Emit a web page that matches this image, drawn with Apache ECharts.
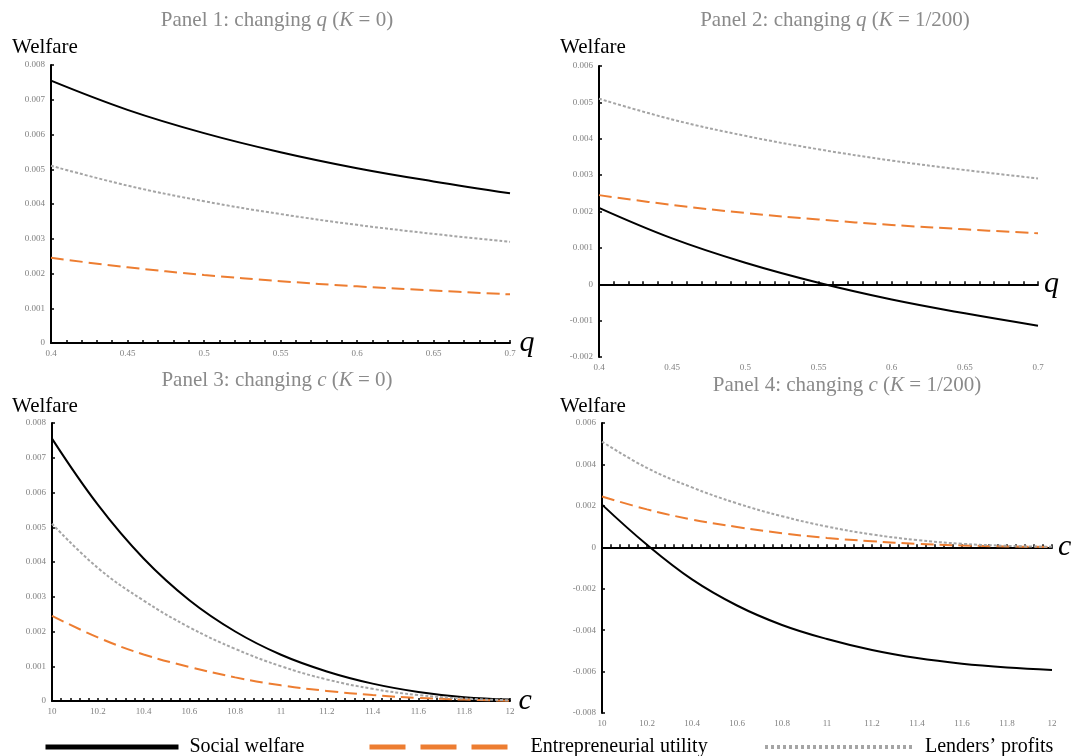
<!DOCTYPE html>
<html>
<head>
<meta charset="utf-8">
<script src="https://cdn.jsdelivr.net/npm/echarts@6/dist/echarts.min.js"></script>
<style>
  html, body { margin: 0; padding: 0; background: #fff; }
  #chart { width: 1077px; height: 756px; }
</style>
</head>
<body>
<div id="chart"></div>
<script>
// x values
var qVals = [0.4, 0.45, 0.5, 0.55, 0.6, 0.65, 0.7];
var cVals = [10, 10.2, 10.4, 10.6, 10.8, 11, 11.2, 11.4, 11.6, 11.8, 12];

// panels 1 and 2 (changing q)
var qSocialK0   = [0.00755, 0.00671, 0.00604, 0.00549, 0.00503, 0.00465, 0.00431];
var qSocialK200 = [0.0021, 0.00126, 0.00059, 0.00004, -0.00042, -0.0008, -0.00114];
var qEntre      = [0.00245, 0.00218, 0.00196, 0.00178, 0.00163, 0.00151, 0.0014];
var qLender     = [0.0051, 0.00453, 0.00408, 0.00371, 0.0034, 0.00314, 0.00291];

// panels 3 and 4 (changing c)
var cSocialK0   = [0.00755, 0.00565, 0.0041, 0.0029, 0.002, 0.00133, 0.00085, 0.0005, 0.00026, 0.00011, 0.00004];
var cSocialK200 = [0.00206, 0.00012, -0.00155, -0.00281, -0.00375, -0.00443, -0.00496, -0.00535, -0.00562, -0.0058, -0.00592];
var cEntre      = [0.00245, 0.00183, 0.00134, 0.00098, 0.00068, 0.00045, 0.00029, 0.00017, 0.00009, 0.00004, 0.00001];
var cLender     = [0.0051, 0.00383, 0.00289, 0.00212, 0.0015, 0.001, 0.00062, 0.00035, 0.00017, 0.00007, 0.00002];

var serif = 'Liberation Serif';
var names = ['Social welfare', 'Entrepreneurial utility', 'Lenders\u2019 profits'];

function pairs(xs, ys) {
  return xs.map(function (x, i) { return [x, ys[i]]; });
}

function xAxisFor(grid, min, max, interval, name) {
  return {
    type: 'value', gridIndex: grid, min: min, max: max, interval: interval,
    name: name, nameLocation: 'end', nameGap: 6,
    nameTextStyle: { fontFamily: serif, fontStyle: 'italic', fontSize: 30, color: '#000', verticalAlign: 'middle' },
    axisLine: { onZero: true, lineStyle: { color: '#000', width: 2 } },
    axisTick: { inside: true, length: 3, lineStyle: { color: '#000', width: 1.5 } },
    minorTick: { show: true, splitNumber: 5, length: 3, lineStyle: { color: '#000', width: 1.5 } },
    axisLabel: { fontFamily: serif, fontSize: 9, color: '#808080', margin: 6 },
    splitLine: { show: false }
  };
}

function yAxisFor(grid, min, max, interval) {
  return {
    type: 'value', gridIndex: grid, min: min, max: max, interval: interval,
    axisLine: { show: true, onZero: false, lineStyle: { color: '#000', width: 2 } },
    axisTick: { show: true, inside: true, length: 3, lineStyle: { color: '#000', width: 1.5 } },
    axisLabel: { fontFamily: serif, fontSize: 9, color: '#808080', margin: 6 },
    splitLine: { show: false }
  };
}

function panelSeries(idx, xs, social, entre, lender) {
  var common = { type: 'line', xAxisIndex: idx, yAxisIndex: idx, smooth: 0.4, symbol: 'none' };
  return [
    Object.assign({}, common, {
      name: names[0], data: pairs(xs, social),
      lineStyle: { color: '#000', width: 2 }, itemStyle: { color: '#000' }
    }),
    Object.assign({}, common, {
      name: names[1], data: pairs(xs, entre),
      lineStyle: { color: '#ED7D31', width: 2, type: [13, 6] }, itemStyle: { color: '#ED7D31' }
    }),
    Object.assign({}, common, {
      name: names[2], data: pairs(xs, lender),
      lineStyle: { color: '#A5A5A5', width: 2, type: [3, 2] }, itemStyle: { color: '#A5A5A5' }
    })
  ];
}

function panelTitle(text, x, y) {
  return {
    text: text, left: x, top: y, textAlign: 'center', padding: 0,
    textStyle: {
      fontFamily: serif, fontSize: 21, fontWeight: 'normal', color: '#8a8a8a',
      rich: { i: { fontFamily: serif, fontSize: 21, fontStyle: 'italic', color: '#8a8a8a' } }
    }
  };
}

function welfareLabel(x, y) {
  return {
    text: 'Welfare', left: x, top: y, padding: 0,
    textStyle: { fontFamily: serif, fontSize: 21, fontWeight: 'normal', color: '#000' }
  };
}

function legendItem(name, x, width, lineStyle) {
  return {
    data: [name], left: x, top: 737, padding: 0,
    itemWidth: width, itemHeight: 14, selectedMode: false,
    lineStyle: lineStyle,
    itemStyle: { opacity: 0 },
    textStyle: { fontFamily: serif, fontSize: 20, color: '#000', padding: [0, 0, 0, 6] }
  };
}

var chart = echarts.init(document.getElementById('chart'));

var option = {
  animation: false,
  backgroundColor: '#fff',
  title: [
    panelTitle('Panel 1: changing {i|q} ({i|K} = 0)', 277, 10),
    panelTitle('Panel 2: changing {i|q} ({i|K} = 1/200)', 835, 10),
    panelTitle('Panel 3: changing {i|c} ({i|K} = 0)', 277, 370),
    panelTitle('Panel 4: changing {i|c} ({i|K} = 1/200)', 847, 375),
    welfareLabel(12, 37),
    welfareLabel(560, 37),
    welfareLabel(12, 396),
    welfareLabel(560, 396)
  ],
  legend: [
    legendItem(names[0], 43, 133, { width: 5, type: 'solid', opacity: 1 }),
    legendItem(names[1], 367, 150, { width: 5, type: [36, 15], opacity: 1 }),
    legendItem(names[2], 763, 149, { width: 4, type: [3, 3], opacity: 1 })
  ],
  grid: [
    { left: 51, top: 65, width: 459, height: 278, containLabel: false, outerBoundsMode: 'none' },
    { left: 599, top: 66, width: 439, height: 291, containLabel: false, outerBoundsMode: 'none' },
    { left: 52, top: 423, width: 458, height: 278, containLabel: false, outerBoundsMode: 'none' },
    { left: 602, top: 423, width: 450, height: 290, containLabel: false, outerBoundsMode: 'none' }
  ],
  xAxis: [
    xAxisFor(0, 0.4, 0.7, 0.05, 'q'),
    xAxisFor(1, 0.4, 0.7, 0.05, 'q'),
    xAxisFor(2, 10, 12, 0.2, 'c'),
    xAxisFor(3, 10, 12, 0.2, 'c')
  ],
  yAxis: [
    yAxisFor(0, 0, 0.008, 0.001),
    yAxisFor(1, -0.002, 0.006, 0.001),
    yAxisFor(2, 0, 0.008, 0.001),
    yAxisFor(3, -0.008, 0.006, 0.002)
  ],
  series: [].concat(
    panelSeries(0, qVals, qSocialK0, qEntre, qLender),
    panelSeries(1, qVals, qSocialK200, qEntre, qLender),
    panelSeries(2, cVals, cSocialK0, cEntre, cLender),
    panelSeries(3, cVals, cSocialK200, cEntre, cLender)
  )
};

chart.setOption(option);
</script>
</body>
</html>
